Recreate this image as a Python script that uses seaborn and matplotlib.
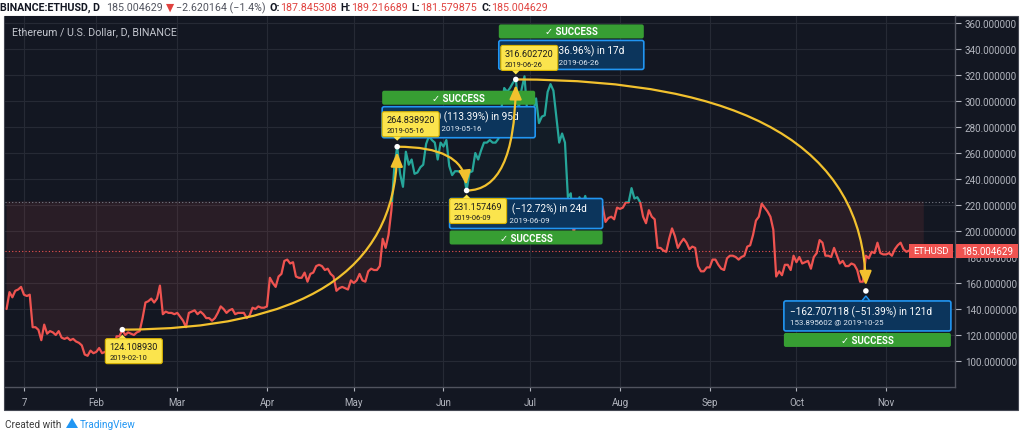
import matplotlib
matplotlib.use("Agg")
import numpy as np
import pandas as pd
import matplotlib.pyplot as plt
import matplotlib.dates as mdates
from matplotlib.patches import Rectangle, FancyBboxPatch, Polygon
from matplotlib.transforms import IdentityTransform, Bbox
import seaborn as sns

# Clôtures quotidiennes ETH/USD (1er janvier -> 14 novembre 2019)
jan = [140, 153, 149, 154, 155, 157, 151, 150, 151, 126, 126, 124, 116, 128, 121, 123,
       122, 120, 123, 118, 117, 118, 116, 117, 115, 114, 112, 105, 104, 108, 106]
feb = [107, 110, 106, 107, 105, 104, 104, 119, 119, 124, 120, 122, 121, 120, 122, 123,
       133, 145, 146, 148, 145, 148, 158, 136, 138, 137, 137, 136]
mar = [137, 134, 131, 126, 137, 138, 139, 136, 138, 136, 133, 133, 131, 133, 137, 142,
       140, 137, 139, 140, 136, 137, 137, 137, 133, 135, 141, 140, 142, 141, 141]
apr = [142, 164, 160, 157, 165, 167, 177, 178, 175, 176, 165, 164, 164, 168, 161, 167,
       168, 173, 174, 173, 170, 171, 167, 165, 154, 156, 157, 156, 155, 162]
may = [160, 162, 167, 162, 161, 169, 171, 170, 170, 173, 194, 187, 197, 216, 249, 265,
       244, 234, 261, 251, 255, 244, 245, 249, 251, 267, 273, 270, 268, 255, 268]
jun = [265, 270, 250, 243, 246, 246, 245, 244, 231, 245, 246, 260, 255, 262, 268, 268,
       270, 268, 268, 271, 294, 310, 307, 310, 314, 317, 294, 309, 319, 290]
jul = [290, 291, 302, 283, 288, 289, 307, 313, 308, 288, 268, 275, 268, 226, 229, 198,
       211, 226, 220, 227, 217, 212, 211, 216, 219, 219, 207, 210, 211, 209, 218]
aug = [217, 218, 222, 222, 233, 225, 226, 222, 211, 206, 216, 211, 209, 187, 187, 185,
       184, 194, 202, 196, 187, 191, 194, 191, 186, 188, 187, 173, 169, 169, 172]
sep = [172, 178, 178, 174, 171, 170, 179, 181, 181, 180, 178, 180, 181, 188, 189, 197,
       208, 211, 221, 218, 215, 211, 201, 165, 169, 166, 174, 174, 170, 181]
oct_ = [176, 180, 175, 176, 177, 171, 180, 183, 193, 191, 181, 181, 180, 187, 181, 175,
        177, 173, 173, 175, 174, 170, 161, 161, 181, 179, 184, 183, 191, 183, 182]
nov = [182, 183, 181, 186, 189, 191, 186, 184, 185, 188, 185, 186, 187.6, 185.004629]
start_date = "2019-01-01"

# Points du tracé de projection
ann_dates = ["2019-02-10", "2019-05-16", "2019-06-09", "2019-06-26", "2019-10-25"]
ann_values = [124.108930, 264.838920, 231.157469, 316.602720, 153.895602]

month_ticks = ["2019-01-07", "2019-02-01", "2019-03-01", "2019-04-01", "2019-05-01", "2019-06-01",
               "2019-07-01", "2019-08-01", "2019-09-01", "2019-10-01", "2019-11-01"]
month_labels = ["7", "Feb", "Mar", "Apr", "May", "Jun", "Jul", "Aug", "Sep", "Oct", "Nov"]
price_ticks = list(range(100, 361, 20))

last_close = 185.004629
header = [
    ("BINANCE:ETHUSD, D", "#131722", "bold", 6),
    ("185.004629", "#50535e", "normal", 3),
    ("\u25bc", "#e0423f", "normal", 2),
    ("\u22122.620164 (\u22121.4%)", "#50535e", "normal", 4),
    ("O:", "#131722", "bold", 0), ("187.845308", "#e0423f", "normal", 4),
    ("H:", "#131722", "bold", 0), ("189.216689", "#e0423f", "normal", 4),
    ("L:", "#131722", "bold", 0), ("181.579875", "#e0423f", "normal", 4),
    ("C:", "#131722", "bold", 0), ("185.004629", "#e0423f", "normal", 0),
]

W, H = 1024, 431
BG = "#131722"
GRID = "#262a35"
AXIS_TXT = "#b2b5be"
RED = "#ef5350"
TEAL = "#26a69a"
YELLOW = "#f2c12e"
LABEL_YELLOW = "#fbe44d"
BLUE_BG = "#0c355c"
BLUE_EDGE = "#2196f3"
GREEN = "#379e33"

sns.set_theme(style="dark", rc={"axes.facecolor": BG})
plt.rcParams["font.family"] = ["Roboto", "DejaVu Sans"]

prices = np.array(jan + feb + mar + apr + may + jun + jul + aug + sep + oct_ + nov, dtype=float)
dates = pd.date_range(start_date, periods=len(prices), freq="D")
df = pd.DataFrame({"date": dates, "price": prices})

fig = plt.figure(figsize=(W / 100, H / 100), dpi=100)
fig.patch.set_facecolor("white")
fig.add_artist(Rectangle((4 / W, 1 - 411 / H), 1014 / W, 394 / H, transform=fig.transFigure,
                         facecolor=BG, edgecolor="#434651", lw=0.8, zorder=-5))

ax = fig.add_axes([5 / W, 1 - 388 / H, 950 / W, 371 / H])
ax.set_facecolor(BG)

day0 = mdates.date2num(pd.Timestamp(start_date))
xmin, xmax = day0 - 0.55, day0 + 327.8
ymin, ymax = 80.0, 365.4
base = (ymin + ymax) / 2  # ligne de base du graphique "baseline"

# remplissages de part et d'autre de la ligne de base
ax.fill_between(df["date"], df["price"], base, where=df["price"] < base, interpolate=True,
                color=RED, alpha=0.10, lw=0, zorder=1)
ax.fill_between(df["date"], df["price"], base, where=df["price"] >= base, interpolate=True,
                color=TEAL, alpha=0.035, lw=0, zorder=1)

sns.lineplot(data=df, x="date", y="price", ax=ax, color=RED, lw=1.6, zorder=3)
red_line = ax.lines[-1]
sns.lineplot(data=df, x="date", y="price", ax=ax, color=TEAL, lw=1.6, zorder=3)
teal_line = ax.lines[-1]
red_line.set_clip_path(Rectangle((xmin, 0), xmax - xmin, base, transform=ax.transData))
teal_line.set_clip_path(Rectangle((xmin, base), xmax - xmin, 1000, transform=ax.transData))

ax.axhline(base, color="#787b86", ls=(0, (1, 2)), lw=0.8, zorder=2)
ax.axhline(last_close, color=RED, ls=(0, (1, 2)), lw=0.8, zorder=2)

ax.set_xlim(xmin, xmax)
ax.set_ylim(ymin, ymax)
ax.set_xlabel("")
ax.set_ylabel("")

ax.set_xticks(mdates.date2num(pd.to_datetime(month_ticks)))
ax.set_xticklabels(month_labels)
ax.yaxis.tick_right()
ax.set_yticks(price_ticks)
ax.set_yticklabels([f"{v:.6f}" for v in price_ticks])
ax.tick_params(axis="x", bottom=True, colors=AXIS_TXT, labelsize=7, length=3, width=0.8, pad=4)
ax.tick_params(axis="y", right=True, left=False, labelright=True, labelleft=False,
               colors=AXIS_TXT, labelsize=7.1, length=4, width=0.8, pad=3)
ax.grid(True, color=GRID, lw=0.8)
ax.set_axisbelow(True)
for side in ["top", "left"]:
    ax.spines[side].set_visible(False)
for side in ["bottom", "right"]:
    ax.spines[side].set_color("#50535e")
    ax.spines[side].set_linewidth(1)

ax.text(12 / W, 1 - 32 / H, "Ethereum / U.S. Dollar, D, BINANCE", transform=fig.transFigure,
        color="#c3c6ce", fontsize=7.7, va="center", ha="left")

# étiquettes du dernier cours
ident = IdentityTransform()
_, ly_disp = ax.transData.transform((xmin, last_close))
ax.add_patch(Rectangle((909, ly_disp - 7), 44, 14, transform=ident, facecolor=RED, lw=0, zorder=9, clip_on=False))
ax.add_patch(Rectangle((956, ly_disp - 7), 62, 14, transform=ident, facecolor=RED, lw=0, zorder=9, clip_on=False))
ax.text(931, ly_disp, "ETHUSD", transform=ident, color="white", fontsize=6.8, ha="center", va="center", zorder=10)
ax.text(961, ly_disp, "185.004629", transform=ident, color="white", fontsize=7, ha="left", va="center", zorder=10)

# tracé de projection : flèches, points et étiquettes
ann_x = mdates.date2num(pd.to_datetime(ann_dates))
for i in range(1, len(ann_values)):
    ax.annotate("", xy=(ann_x[i], ann_values[i]), xytext=(ann_x[i - 1], ann_values[i - 1]),
                arrowprops=dict(arrowstyle="-|>,head_length=0.7,head_width=0.3",
                                connectionstyle="angle3,angleA=0,angleB=90",
                                color=YELLOW, lw=1.6, shrinkA=0, shrinkB=4),
                zorder=7)
ax.scatter(ann_x, ann_values, s=16, color="white", zorder=8, edgecolor="none")

# positions des boîtes en pixels, relatives au point
yellow_off = [(-17, 9), (-15, -35), (-17, 8), (-15, -34), None]
yw, yh = 57, 25
blue_off = [None, (-15, -40, 153, 31), (-17, 8, 153, 30), (-17, -39, 145, 29), (-82, 10, 167, 30)]
green_above = [None, True, False, True, False]

for i, (d, v) in enumerate(zip(ann_dates, ann_values)):
    dx, dy = ax.transData.transform((ann_x[i], v))
    px, py = dx, H - dy
    if blue_off[i] is not None:
        ox, oy, bw, bh = blue_off[i]
        left, top = px + ox, py + oy
        ax.add_patch(FancyBboxPatch((left, H - top - bh), bw, bh, boxstyle="round,pad=0,rounding_size=2",
                                    transform=ident, facecolor=BLUE_BG, edgecolor=BLUE_EDGE, lw=1.2,
                                    zorder=5, clip_on=False))
        diff = v - ann_values[i - 1]
        pct = diff / ann_values[i - 1] * 100
        ndays = (pd.Timestamp(d) - pd.Timestamp(ann_dates[i - 1])).days
        sign = "\u2212" if diff < 0 else ""
        line1 = f"{sign}{abs(diff):.6f} ({sign}{abs(pct):.2f}%) in {ndays}d"
        line2 = f"{v:.6f} @ {d}"
        t1 = ax.text(left + 6, H - top - 10, line1, transform=ident, color="white", fontsize=7.2,
                     ha="left", va="center", zorder=6)
        t2 = ax.text(left + 6, H - top - 21.5, line2, transform=ident, color="#dfe8f2", fontsize=5.7,
                     ha="left", va="center", zorder=6)
        # la partie cachée par l'étiquette jaune n'est pas dessinée
        if yellow_off[i] is not None:
            yx0 = px + yellow_off[i][0] + yw + 1
            clip = Bbox.from_extents(yx0, 0, W, H)
            for t in (t1, t2):
                t.set_clip_box(clip)
                t.set_clip_on(True)
        gtop = top - 16 if green_above[i] else top + bh + 2
        ax.add_patch(FancyBboxPatch((left, H - gtop - 14), bw, 14, boxstyle="round,pad=0,rounding_size=2",
                                    transform=ident, facecolor=GREEN, edgecolor="none",
                                    zorder=5, clip_on=False))
        ax.text(left + bw / 2, H - gtop - 7, "\u2713 SUCCESS", transform=ident, color="white",
                fontsize=7, fontweight="bold", ha="center", va="center", zorder=6)
        if not green_above[i] and yellow_off[i] is None:
            ax.add_patch(Polygon([(px - 4, H - top), (px + 4, H - top), (px, H - top + 5)], closed=True,
                                 transform=ident, facecolor=BLUE_BG, edgecolor=BLUE_EDGE, lw=1, zorder=6))
    if yellow_off[i] is not None:
        ox, oy = yellow_off[i]
        left, top = px + ox, py + oy
        ax.add_patch(FancyBboxPatch((left, H - top - yh), yw, yh, boxstyle="round,pad=0,rounding_size=2",
                                    transform=ident, facecolor=LABEL_YELLOW, edgecolor="#d9b300", lw=0.8,
                                    zorder=9, clip_on=False))
        if oy > 0:
            tri = [(px - 4, H - top), (px + 4, H - top), (px, H - top + 4)]
        else:
            tri = [(px - 4, H - top - yh), (px + 4, H - top - yh), (px, H - top - yh - 4)]
        ax.add_patch(Polygon(tri, closed=True, transform=ident, facecolor=LABEL_YELLOW,
                             edgecolor="none", zorder=9, clip_on=False))
        ax.text(left + 4, H - top - 8, f"{v:.6f}", transform=ident, color="#1c1c1c", fontsize=6.6,
                ha="left", va="center", zorder=10)
        ax.text(left + 4, H - top - 19, d, transform=ident, color="#1c1c1c", fontsize=5.4,
                ha="left", va="center", zorder=10)

# en-tête coloré, morceau par morceau
renderer = fig.canvas.get_renderer()
x = 0
for s, color, weight, gap in header:
    t = fig.text(x, H - 8, s, transform=ident, color=color, fontsize=7.7, fontweight=weight,
                 ha="left", va="center")
    x += t.get_window_extent(renderer).width + gap

# pied de page
fig.text(5, H - 425, "Created with", transform=ident, color="#3c3c3c", fontsize=7.2, ha="left", va="center")
fig.add_artist(Polygon([(66, H - 429), (72, H - 419), (78, H - 429)], closed=True, transform=ident,
                       facecolor="#2196f3", edgecolor="none"))
fig.text(80, H - 425, "TradingView", transform=ident, color="#2196f3", fontsize=7.2, ha="left", va="center")

fig.savefig("out.png", dpi=100, facecolor="white")
